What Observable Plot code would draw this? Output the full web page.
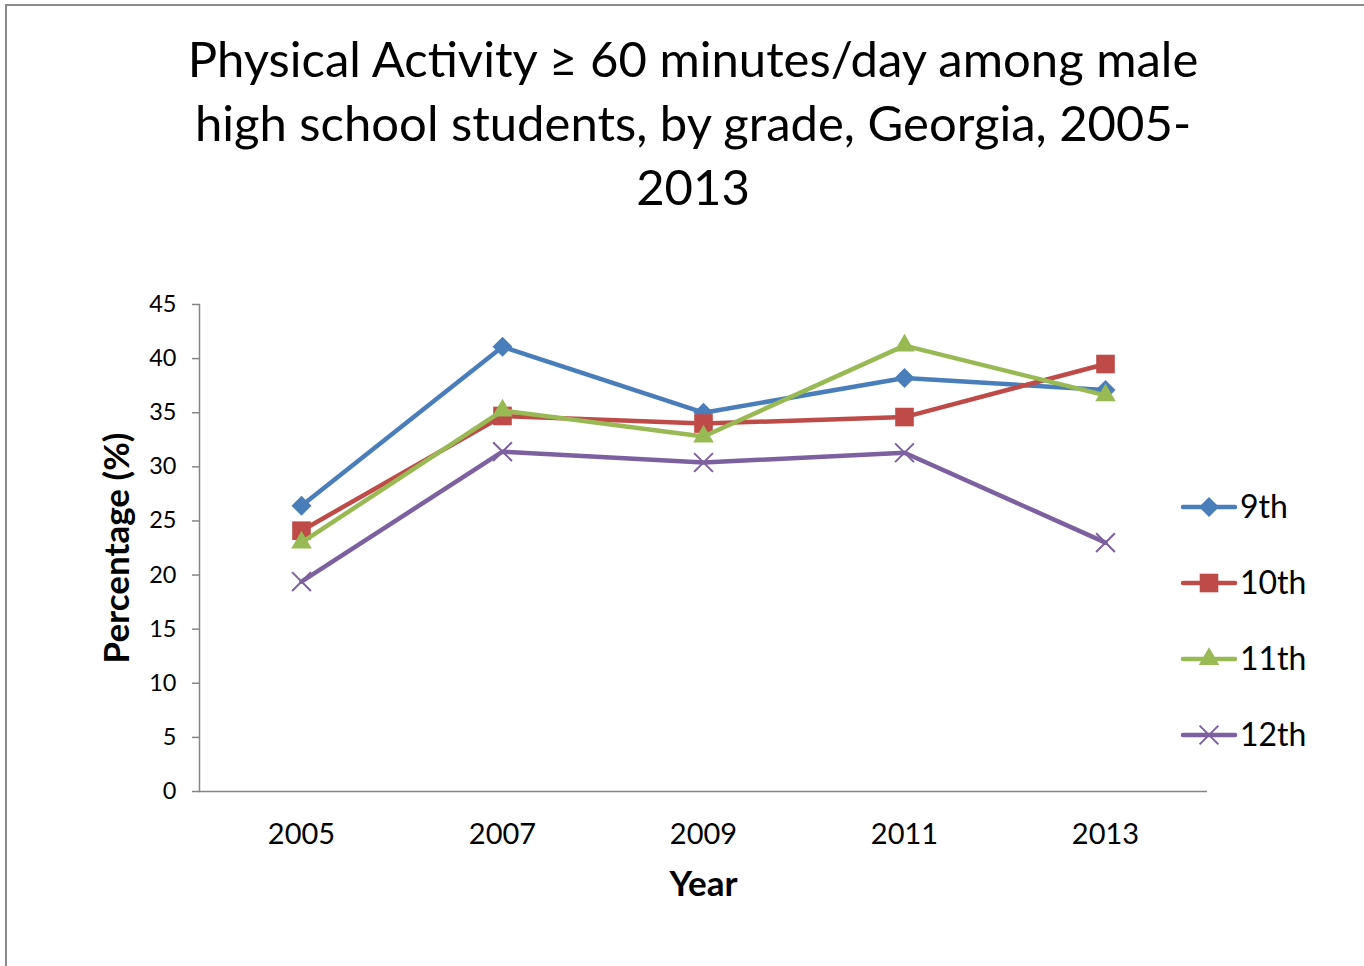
<!DOCTYPE html>
<html>
<head>
<meta charset="utf-8">
<script src="https://cdn.jsdelivr.net/npm/d3@7"></script>
<script src="https://cdn.jsdelivr.net/npm/@observablehq/plot@0.6"></script>
<style>
html, body { margin: 0; padding: 0; background: #fff; }
#page { position: relative; width: 1364px; height: 966px; overflow: hidden; font-family: Lato, sans-serif; background: #fff; }
#border { position: absolute; left: 5px; top: 4px; width: 1400px; height: 1000px; border-top: 2px solid #8c8c8c; border-left: 2px solid #8c8c8c; }
#title { position: absolute; left: 0; top: 26px; width: 1386px; text-align: center; font-size: 49px; line-height: 64px; color: #000; }
#chart { position: absolute; left: 0; top: 240px; }
#legend { position: absolute; left: 0; top: 0; pointer-events: none; }
#chart g[aria-label="y-axis label"] text, #chart g[aria-label="x-axis label"] text { font-weight: bold; font-size: 35px; }
#chart g[aria-label="x-axis tick label"] text { font-size: 29px; }
</style>
</head>
<body>
<div id="page">
  <div id="border"></div>
  <div id="title">Physical Activity ≥ 60 minutes/day among male<br>high school students, by grade, Georgia, 2005-<br>2013</div>
  <div id="chart"></div>
  <svg id="legend" width="1364" height="966"></svg>
</div>
<script>
// ---- data ----
const years = ["2005", "2007", "2009", "2011", "2013"];
const grades = ["9th", "10th", "11th", "12th"];
const grade9  = [26.4, 41.1, 35.0, 38.2, 37.1];
const grade10 = [24.1, 34.7, 34.0, 34.6, 39.5];
const grade11 = [23.0, 35.2, 32.8, 41.2, 36.6];
const grade12 = [19.4, 31.4, 30.4, 31.3, 23.0];
const yTicks = [0, 5, 10, 15, 20, 25, 30, 35, 40, 45];

// ---- styles ----
const styles = [
  {values: grade9,  color: "#4A7EBB", symbol: "diamond2", r: 9,   filled: true},
  {values: grade10, color: "#BE4B48", symbol: "square",   r: 10.5, filled: true},
  {values: grade11, color: "#98B954", symbol: "triangle2", r: 9.8, filled: true},
  {values: grade12, color: "#7D60A0", symbol: "times",    r: 8.6, filled: false}
];

const seriesMarks = styles.flatMap((s, k) => {
  const rows = years.map((yr, i) => ({grade: grades[k], year: yr, value: s.values[i]}));
  return [
    Plot.line(rows, {x: "year", y: "value", stroke: s.color, strokeWidth: 4.5, strokeLinejoin: "round", strokeLinecap: "round"}),
    Plot.dot(rows, s.filled
      ? {x: "year", y: "value", symbol: () => s.symbol, r: s.r, fill: s.color, stroke: "none"}
      : {x: "year", y: "value", symbol: () => s.symbol, r: s.r, fill: "none", stroke: s.color, strokeWidth: 2})
  ];
});

const chart = Plot.plot({
  width: 1364,
  height: 700,
  marginTop: 64,
  marginBottom: 149,
  marginLeft: 199,
  marginRight: 157,
  style: {fontFamily: "Lato, sans-serif", fontSize: "23.5px", color: "#000", background: "transparent", overflow: "visible"},
  x: {type: "point", domain: years, padding: 0.5},
  y: {domain: [0, 45]},
  symbol: {type: "identity"},
  marks: [
    Plot.axisY({ticks: yTicks, tickSize: 7, tickPadding: 16, stroke: "#868686", strokeWidth: 1.5, fill: "#000",
      label: "Percentage (%)", labelAnchor: "center", labelArrow: "none", labelOffset: 95}),
    Plot.axisX({tickSize: 0, tickPadding: 32, fill: "#000", label: "Year", labelAnchor: "center", labelArrow: "none", labelOffset: 104}),
    Plot.frame({anchor: "left", stroke: "#868686", strokeWidth: 1.5}),
    Plot.ruleY([0], {stroke: "#868686", strokeWidth: 1.5}),
    ...seriesMarks
  ]
});
document.getElementById("chart").appendChild(chart);

// ---- legend ----
const legend = d3.select("#legend");
const rowsY = [507, 583, 659, 735];
const symMap = {diamond2: d3.symbolDiamond2, square: d3.symbolSquare, triangle2: d3.symbolTriangle2, times: d3.symbolTimes};
styles.forEach((s, k) => {
  const g = legend.append("g").attr("transform", `translate(0,${rowsY[k]})`);
  g.append("line").attr("x1", 1183).attr("x2", 1235).attr("y1", 0).attr("y2", 0)
    .attr("stroke", s.color).attr("stroke-width", 4.5).attr("stroke-linecap", "round");
  const sz = Math.PI * s.r * s.r;
  g.append("path").attr("transform", "translate(1209,0)")
    .attr("d", d3.symbol(symMap[s.symbol], sz)())
    .attr("fill", s.filled ? s.color : "none")
    .attr("stroke", s.filled ? "none" : s.color)
    .attr("stroke-width", 2);
  g.append("text").attr("x", 1240).attr("y", 11)
    .attr("font-family", "Lato, sans-serif").attr("font-size", 32).attr("fill", "#000")
    .text(grades[k]);
});
</script>
</body>
</html>
